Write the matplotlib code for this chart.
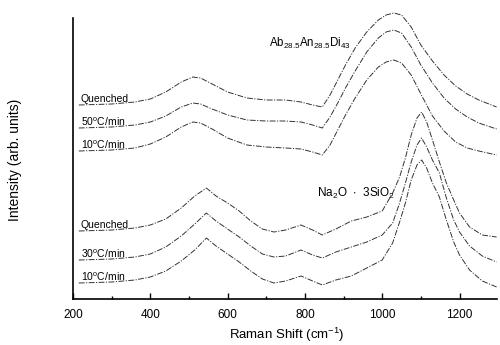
import matplotlib
matplotlib.use("Agg")
import matplotlib.pyplot as plt
from matplotlib.ticker import MultipleLocator

plt.rcParams['font.family'] = ['Liberation Sans', 'DejaVu Sans']
plt.rcParams['mathtext.default'] = 'regular'

# Ab28.5An28.5Di43 spectra (offset intensities, arb. units)
ab_shift = [215, 300, 360, 400, 440, 480, 510, 530, 560, 600, 650, 700, 750,
            790, 820, 845, 865, 885, 905, 930, 960, 990, 1010, 1030, 1050,
            1075, 1100, 1130, 1160, 1190, 1220, 1250, 1296]
ab_quenched = [194, 195, 197, 200, 207, 217, 222, 221, 215, 207, 201, 199, 199,
               197, 194, 192, 204, 219, 234, 251, 267, 279, 284, 286, 284,
               272, 254, 238, 224, 213, 205, 199, 192]
ab_50 = [171, 172, 174, 177, 183, 192, 196, 195, 190, 184, 179, 178, 178,
         177, 174, 171, 182, 196, 211, 228, 247, 261, 267, 269, 266,
         252, 234, 216, 201, 190, 182, 176, 170]
ab_10 = [148, 149, 151, 155, 162, 172, 177, 176, 170, 161, 154, 152, 151,
         150, 147, 144, 154, 169, 184, 201, 219, 232, 237, 239, 236,
         224, 205, 183, 168, 157, 151, 148, 144]

# Na2O.3SiO2 spectra
na_shift = [215, 300, 360, 400, 440, 480, 515, 545, 570, 600, 630, 660, 690,
            720, 750, 790, 820, 845, 880, 920, 960, 1000, 1027, 1045, 1060,
            1075, 1090, 1102, 1115, 1130, 1148, 1166, 1185, 1200, 1226, 1259, 1296]
na_quenched = [68, 69, 71, 74, 80, 91, 103, 111, 103, 96, 88, 78, 70,
               67, 69, 74, 69, 64, 70, 78, 82, 88, 106, 122, 141,
               164, 181, 187, 177, 159, 137, 116, 99, 86, 72, 64, 62]
na_30 = [39, 40, 42, 45, 52, 63, 75, 86, 78, 70, 62, 53, 45,
         42, 43, 49, 44, 41, 47, 52, 57, 64, 76, 96, 116,
         137, 154, 161, 152, 139, 126, 101, 79, 67, 53, 43, 37]
na_10 = [16, 17, 19, 22, 28, 38, 49, 61, 53, 45, 37, 28, 20,
         16, 18, 23, 18, 14, 19, 23, 31, 39, 56, 77, 96,
         119, 134, 139, 131, 116, 102, 79, 57, 44, 29, 18, 12]

ab_labels = ['Quenched', '50$^o$C/min', '10$^o$C/min']
na_labels = ['Quenched', '30$^o$C/min', '10$^o$C/min']

fig = plt.figure(figsize=(5.0, 3.45), dpi=100)
ax = fig.add_axes([0.146, 0.1333, 0.848, 0.8435])

ls = (0, (6, 1.5, 1.2, 1.5))
for ys in (ab_quenched, ab_50, ab_10):
    ax.plot(ab_shift, ys, color='#333333', lw=0.7, ls=ls)
for ys in (na_quenched, na_30, na_10):
    ax.plot(na_shift, ys, color='#333333', lw=0.7, ls=ls)

# curve labels, sitting just above the start of each curve
for lab, ys in zip(ab_labels, (ab_quenched, ab_50, ab_10)):
    ax.text(220, ys[0] + 6, lab, fontsize=7.5, va='center', ha='left')
for lab, ys in zip(na_labels, (na_quenched, na_30, na_10)):
    ax.text(220, ys[0] + 6, lab, fontsize=7.5, va='center', ha='left')

ax.text(708, 256, 'Ab$_{28.5}$An$_{28.5}$Di$_{43}$', fontsize=8.3, va='center')
ax.text(832, 106, 'Na$_2$O  $\\cdot$  3SiO$_2$', fontsize=8.5, va='center')

ax.set_xlim(200, 1297)
ax.set_ylim(0, 291)
ax.spines['top'].set_visible(False)
ax.spines['right'].set_visible(False)
ax.spines['left'].set_bounds(0, 281)
ax.spines['left'].set_linewidth(1.2)
ax.spines['bottom'].set_linewidth(1.2)
ax.set_yticks([])
ax.xaxis.set_major_locator(MultipleLocator(200))
ax.xaxis.set_minor_locator(MultipleLocator(100))
ax.tick_params(axis='x', which='major', direction='in', length=4, width=1, labelsize=8.5, pad=7)
ax.tick_params(axis='x', which='minor', direction='in', length=2, width=1)

ax.set_xlabel('Raman Shift (cm$^{-1}$)', fontsize=9.5)
ax.xaxis.set_label_coords(0.505, -0.092)
ax.set_ylabel('Intensity (arb. units)', fontsize=10)
ax.yaxis.set_label_coords(-0.12, 0.478)

fig.savefig('out.png', dpi=100)
